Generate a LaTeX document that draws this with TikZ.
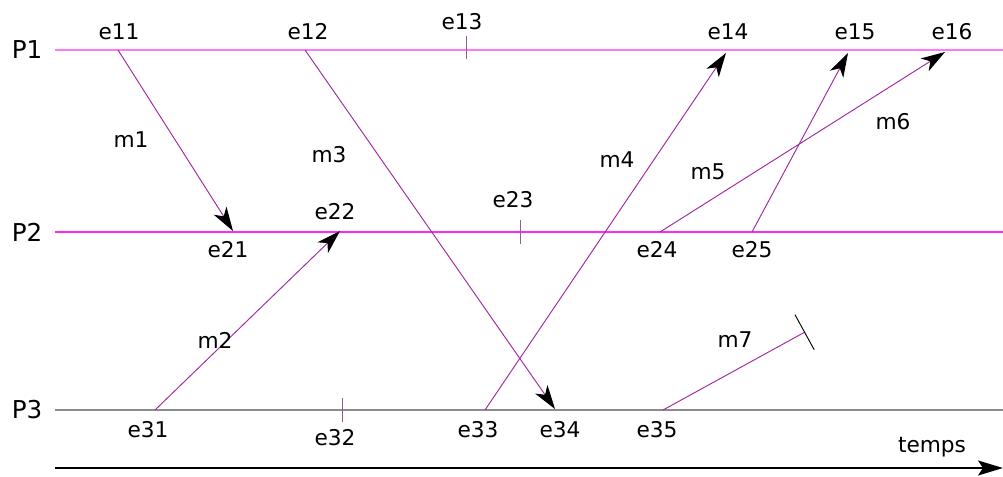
\documentclass[tikz,border=0pt]{standalone}
\usepackage{fontspec}
\setmainfont{DejaVu Sans}
\usetikzlibrary{arrows.meta,positioning}

\definecolor{lightmag}{RGB}{255,120,255}
\definecolor{strongmag}{RGB}{255,40,255}
\definecolor{lanegray}{RGB}{140,140,140}
\definecolor{msgcol}{RGB}{160,40,160}
\definecolor{tickcol}{RGB}{150,90,150}

\begin{document}
\begin{tikzpicture}[
  x=0.03cm, y=-0.03cm,
  lane/.style={line width=1.6pt},
  procname/.style={inner sep=0pt,font=\fontsize{21}{23}\selectfont},
  evname/.style={inner sep=0pt,font=\fontsize{18.5}{20}\selectfont},
  msgname/.style={inner sep=0pt,font=\fontsize{18.5}{20}\selectfont},
  msg/.style={msgcol,line width=0.8pt,-{Stealth[length=0.72cm,width=0.45cm,inset=0.2cm,black]}},
  lost/.style={msgcol,line width=0.8pt,-{Bar[width=1.2cm,line width=0.8pt,black]}},
  evtick/.style={tickcol,line width=0.8pt}
]
  \useasboundingbox (0,0) rectangle (1003,477);

  % process lines
  \node[procname] (P1) at (27,50) {P1};
  \node[procname] (P2) at (27,232) {P2};
  \node[procname] (P3) at (27,410) {P3};
  \coordinate (p1s) at (55,50);  \coordinate (p1e) at (1003,50);
  \coordinate (p2s) at (55,232); \coordinate (p2e) at (1003,232);
  \coordinate (p3s) at (55,410); \coordinate (p3e) at (1003,410);
  \draw[lane,lightmag] (p1s) -- (p1e);
  \draw[lane,strongmag] (p2s) -- (p2e);
  \draw[lane,lanegray] (p3s) -- (p3e);

  % events
  \coordinate (e11) at (118,50);
  \coordinate (e12) at (305,50);
  \coordinate (e13) at (466,50);
  \coordinate (e14) at (726,53);
  \coordinate (e15) at (848,53);
  \coordinate (e16) at (945,52);
  \coordinate (e21) at (233,231);
  \coordinate (e22) at (340,231);
  \coordinate (e23) at (520,232);
  \coordinate (e24) at (660,232);
  \coordinate (e25) at (752,232);
  \coordinate (e31) at (155,410);
  \coordinate (e32) at (342,410);
  \coordinate (e33) at (485,410);
  \coordinate (e34) at (555,409);
  \coordinate (e35) at (663,410);
  \coordinate (m7end) at (805,332);

  \node[evname] (t11) at (119,32) {e11};
  \node[evname] (t12) at (308,32) {e12};
  \node[evname] (t13) at (462,22) {e13};
  \node[evname] (t14) at (728,32) {e14};
  \node[evname] (t15) at (855,32) {e15};
  \node[evname] (t16) at (952,32) {e16};
  \node[evname] (t21) at (228,250) {e21};
  \node[evname] (t22) at (335,212) {e22};
  \node[evname] (t23) at (513,200) {e23};
  \node[evname] (t24) at (657,250) {e24};
  \node[evname] (t25) at (752,250) {e25};
  \node[evname] (t31) at (148,430) {e31};
  \node[evname] (t32) at (335,438) {e32};
  \node[evname] (t33) at (478,430) {e33};
  \node[evname] (t34) at (560,430) {e34};
  \node[evname] (t35) at (657,430) {e35};

  % internal events
  \draw[evtick] ([yshift=-8]e13) -- ([yshift=12]e13);
  \draw[evtick] ([yshift=-10]e23) -- ([yshift=10]e23);
  \draw[evtick] ([yshift=-10]e32) -- ([yshift=10]e32);

  % messages
  \draw[msg] (e11) -- (e21);
  \draw[msg] (e31) -- (e22);
  \draw[msg] (e12) -- (e34);
  \draw[msg] (e33) -- (e14);
  \draw[msg] (e24) -- (e16);
  \draw[msg] (e25) -- (e15);
  \draw[lost] (e35) -- (m7end);

  \node[msgname] (m1) at (131,140) {m1};
  \node[msgname] (m2) at (215,340) {m2};
  \node[msgname] (m3) at (329,155) {m3};
  \node[msgname] (m4) at (617,160) {m4};
  \node[msgname] (m5) at (708,172) {m5};
  \node[msgname] (m6) at (893,122) {m6};
  \node[msgname] (m7) at (735,340) {m7};

  % time axis
  \coordinate (ts) at (55,468);
  \coordinate (te) at (1003,468);
  \draw[line width=1.6pt,-{Stealth[length=0.75cm,width=0.45cm,inset=0.15cm]}] (ts) -- (te);
  \node[evname] (temps) at (932,447) {temps};
\end{tikzpicture}
\end{document}
